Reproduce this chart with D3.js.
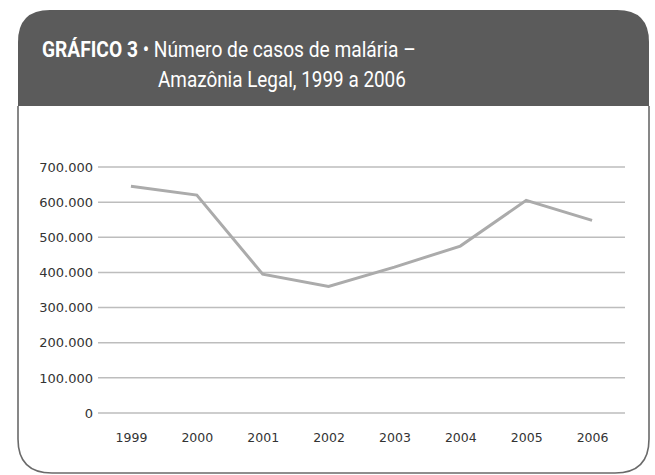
<!DOCTYPE html>
<html>
<head>
<meta charset="utf-8">
<script src="https://cdn.jsdelivr.net/npm/d3@7"></script>
<style>
  body { margin: 0; background: #fff; }
  svg { display: block; }
</style>
</head>
<body>
<svg id="chart" width="655" height="475"></svg>
<script>
// data
const years = ['1999', '2000', '2001', '2002', '2003', '2004', '2005', '2006'];
const cases = [645000, 620000, 395000, 360000, 415000, 475000, 605000, 548000];
const yTicks = [0, 100000, 200000, 300000, 400000, 500000, 600000, 700000];

const svg = d3.select('#chart');
const fmt = v => d3.format(',')(v).replace(/,/g, '.');

// frame: rounded box, dark header on top
const boxL = 18, boxR = 649, boxT = 10, boxB = 473, headB = 106;
const rTop = 32, rBot = 34;

svg.append('path')
  .attr('d', `M${boxL},${headB} V${boxT + rTop} Q${boxL},${boxT} ${boxL + rTop},${boxT}
    H${boxR - rTop} Q${boxR},${boxT} ${boxR},${boxT + rTop} V${headB} Z`)
  .attr('fill', '#5b5b5b');

svg.append('path')
  .attr('d', `M${boxL},${headB} V${boxB - rBot} Q${boxL},${boxB} ${boxL + rBot},${boxB}
    H${boxR - rBot} Q${boxR},${boxB} ${boxR},${boxB - rBot} V${headB}`)
  .attr('fill', 'none')
  .attr('stroke', '#6a6a6a')
  .attr('stroke-width', 1.6);

// title - one text per line, squeezed horizontally to fit the condensed original
function titleLine(x0, y0, width, build) {
  const t = svg.append('text').attr('x', 0).attr('y', 0)
    .attr('font-family', 'Roboto, "Noto Sans", sans-serif')
    .attr('font-size', 22).attr('fill', '#fff');
  build(t);
  const sx = width / t.node().getComputedTextLength();
  t.attr('transform', `translate(${x0},${y0}) scale(${sx},1)`);
}
titleLine(42, 57, 374, (t) => {
  t.append('tspan').attr('font-weight', 'bold').text('GRÁFICO 3');
  t.append('tspan').text(' • Número de casos de malária –');
});
titleLine(158, 87, 248, (t) => {
  t.text('Amazônia Legal, 1999 a 2006');
});

// scales
const x = d3.scalePoint().domain(years).range([98, 625]).padding(0.5);
const y = d3.scaleLinear().domain([0, 700000]).range([413, 167]);

// gridlines
svg.append('g').selectAll('line').data(yTicks).join('line')
  .attr('x1', 98).attr('x2', 625)
  .attr('y1', d => y(d)).attr('y2', d => y(d))
  .attr('stroke', '#bdbdbd').attr('stroke-width', 1.5);

// y axis labels
const yAxis = svg.append('g').attr('transform', 'translate(98,0)')
  .call(d3.axisLeft(y).tickValues(yTicks).tickFormat(fmt).tickSize(0).tickPadding(5));
yAxis.select('.domain').remove();
yAxis.selectAll('text').attr('font-family', '"DejaVu Sans", sans-serif')
  .attr('font-size', 13).attr('fill', '#333');

// x axis labels
const xAxis = svg.append('g').attr('transform', 'translate(0,428)')
  .call(d3.axisBottom(x).tickSize(0).tickPadding(5));
xAxis.select('.domain').remove();
xAxis.selectAll('text').attr('font-family', '"DejaVu Sans", sans-serif')
  .attr('font-size', 12.5).attr('fill', '#333');

// series line
const line = d3.line().x((d, i) => x(years[i])).y(d => y(d));
svg.append('path').datum(cases)
  .attr('d', line)
  .attr('fill', 'none')
  .attr('stroke', '#ababab')
  .attr('stroke-width', 3);
</script>
</body>
</html>
